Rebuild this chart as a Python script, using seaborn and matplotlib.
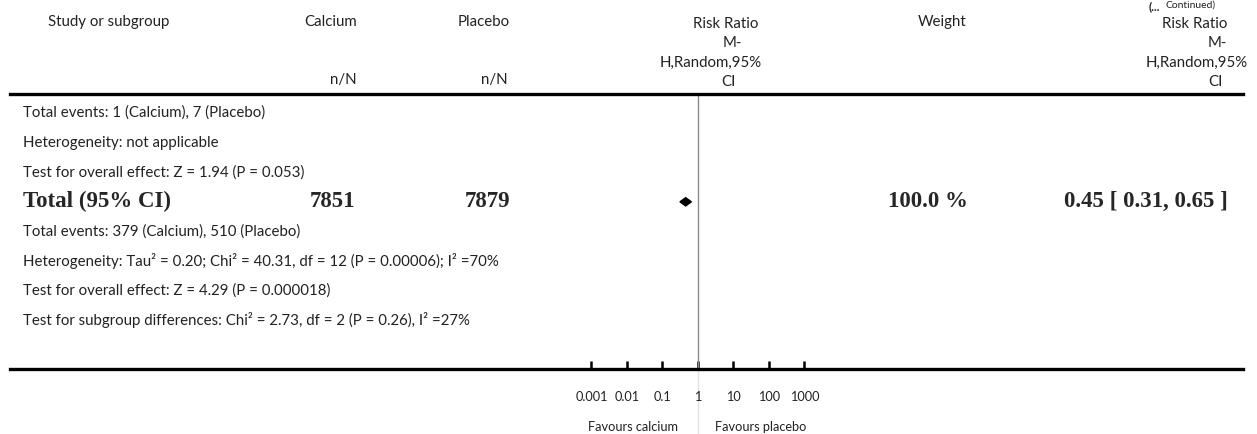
import matplotlib
matplotlib.use("Agg")
import matplotlib.pyplot as plt
import matplotlib.transforms as mtransforms
import seaborn as sns


# ==================== Data ====================

row_labels = [
    "Total events: 1 (Calcium), 7 (Placebo)",
    "Heterogeneity: not applicable",
    "Test for overall effect: Z = 1.94 (P = 0.053)",
    "Total (95% CI)",
    "Total events: 379 (Calcium), 510 (Placebo)",
    "Heterogeneity: Tau² = 0.20; Chi² = 40.31, df = 12 (P = 0.00006); I² =70%",
    "Test for overall effect: Z = 4.29 (P = 0.000018)",
    "Test for subgroup differences: Chi² = 2.73, df = 2 (P = 0.26), I² =27%",
]
total_row = 3
total_calcium = "7851"
total_placebo = "7879"
total_weight = "100.0 %"
total_rr = 0.45
total_lo = 0.31
total_hi = 0.65

tick_values = [0.001, 0.01, 0.1, 1, 10, 100, 1000]
tick_labels = ["0.001", "0.01", "0.1", "1", "10", "100", "1000"]

# ==================== Style ====================

sns.set_theme(style="white")
plt.rcParams["font.family"] = ["Lato", "DejaVu Sans"]
SANS = 10.8
SERIF = dict(family="Liberation Serif", weight="bold", size=16.5)
TXT = "#222222"

W, H = 1257, 434
fig = plt.figure(figsize=(W / 100, H / 100), dpi=100)


def fx(px):
    return px / W


def fy(py):
    return 1 - py / H


# ---------- Forest axes (header line to bottom axis line)
x0, x1, ytop, ybot = 10, 1243, 94, 369
ax = fig.add_axes([fx(x0), fy(ybot), fx(x1) - fx(x0), (ybot - ytop) / H])
decade = 35.5
ax.set_xscale("log")
ax.set_xlim(10 ** ((x0 - 698) / decade), 10 ** ((x1 - 698) / decade))
row_step = 29.6
ax.set_ylim((ybot - 113) / row_step, (ytop - 113) / row_step)
ax.set_facecolor("white")

sns.despine(ax=ax, left=True, right=True, top=False, bottom=False)
for side in ["top", "bottom"]:
    ax.spines[side].set_linewidth(2.4)
    ax.spines[side].set_color("black")

ax.set_xticks(tick_values)
ax.set_xticklabels(tick_labels)
ax.minorticks_off()
ax.tick_params(axis="x", which="major", bottom=True, top=False, direction="in",
               length=6, width=1.8, color="black", pad=16, labelsize=9.2,
               labelcolor=TXT)
ax.set_yticks([])

# line of no effect
ax.axvline(1, color="#8a8a8a", lw=1.0, zorder=1)
ax.axvline(1, ymin=-0.24, ymax=0, color="#e2e2e2", lw=1.0, clip_on=False, zorder=0)

# pooled diamond
dh = 0.14
ax.fill([total_lo, total_rr, total_hi, total_rr],
        [total_row, total_row - dh, total_row, total_row + dh],
        color="black", zorder=3)

# ---------- Row texts
tr = mtransforms.blended_transform_factory(fig.transFigure, ax.transData)
for i, label in enumerate(row_labels):
    if i == total_row:
        ax.text(fx(23), i, label, transform=tr, va="center", ha="left", **SERIF)
    else:
        ax.text(fx(23), i, label, transform=tr, va="center", ha="left",
                fontsize=SANS, color=TXT)

ax.text(fx(355), total_row, total_calcium, transform=tr, va="center", ha="right", **SERIF)
ax.text(fx(510), total_row, total_placebo, transform=tr, va="center", ha="right", **SERIF)
ax.text(fx(928), total_row, total_weight, transform=tr, va="center", ha="center", **SERIF)
ax.text(fx(1228), total_row,
        f"{total_rr:.2f} [ {total_lo:.2f}, {total_hi:.2f} ]",
        transform=tr, va="center", ha="right", **SERIF)

# ---------- Header
def head(px, py, s, ha="center"):
    fig.text(fx(px), fy(py), s, ha=ha, va="center", fontsize=SANS, color=TXT)


head(48, 22, "Study or subgroup", ha="left")
head(357, 22, "Calcium", ha="right")
head(357, 80, "n/N", ha="right")
head(510, 22, "Placebo", ha="right")
head(508, 80, "n/N", ha="right")
head(726, 24, "Risk Ratio")
head(732, 43, "M-")
head(711, 63, "H,Random,95%")
head(728, 82, "CI")
head(942, 22, "Weight")
head(1195, 24, "Risk Ratio")
head(1217, 43, "M-")
head(1197, 63, "H,Random,95%")
head(1215, 82, "CI")

fig.text(fx(1160), fy(1), "(...", ha="right", va="top", fontsize=8.5,
         fontweight="bold", color=TXT)
fig.text(fx(1165), fy(1), "Continued)", ha="left", va="top", fontsize=7.5,
         color=TXT)

# ---------- Favours labels
fig.text(fx(678), fy(427), "Favours calcium", ha="right", va="center",
         fontsize=9.2, color=TXT)
fig.text(fx(715), fy(427), "Favours placebo", ha="left", va="center",
         fontsize=9.2, color=TXT)

fig.savefig("out.png", dpi=100, facecolor="white")
